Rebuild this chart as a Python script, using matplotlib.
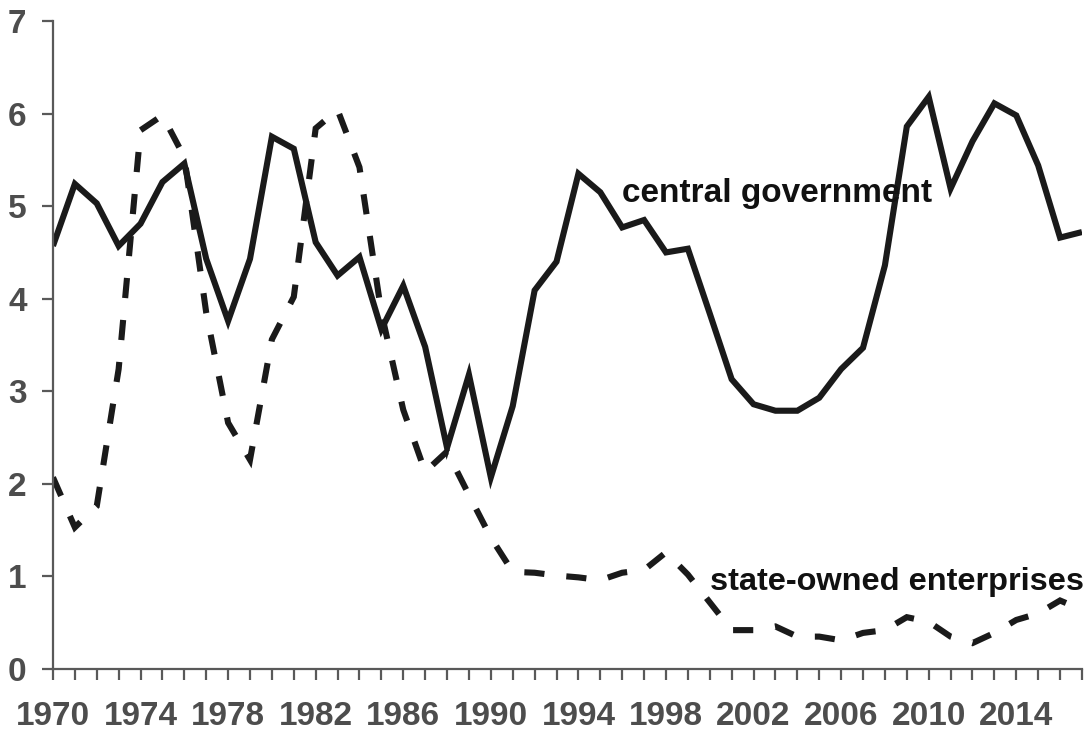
import matplotlib
matplotlib.use("Agg")
import matplotlib.pyplot as plt

# years 1970-2017
years = list(range(1970, 2018))

central_government = [4.57, 5.24, 5.03, 4.57, 4.81, 5.26, 5.46, 4.43, 3.76, 4.43,
                      5.75, 5.62, 4.61, 4.25, 4.45, 3.67, 4.14, 3.48, 2.39, 3.18,
                      2.07, 2.84, 4.09, 4.40, 5.35, 5.15, 4.77, 4.85, 4.50, 4.54,
                      3.84, 3.13, 2.86, 2.79, 2.79, 2.93, 3.24, 3.47, 4.36, 5.86,
                      6.18, 5.19, 5.70, 6.11, 5.98, 5.44, 4.66, 4.72]

state_owned = [2.07, 1.53, 1.76, 3.24, 5.82, 5.98, 5.53, 3.85, 2.66, 2.26,
               3.56, 4.02, 5.84, 6.04, 5.42, 3.85, 2.80, 2.13, 2.35, 1.88,
               1.42, 1.05, 1.04, 1.01, 0.99, 0.96, 1.04, 1.07, 1.26, 1.02,
               0.72, 0.42, 0.42, 0.46, 0.35, 0.35, 0.31, 0.39, 0.42, 0.56,
               0.51, 0.35, 0.28, 0.39, 0.53, 0.60, 0.74, 0.64]

x_labels = list(range(1970, 2015, 4))
y_ticks = list(range(0, 8))

plt.rcParams['font.family'] = ['Liberation Sans', 'DejaVu Sans']
plt.rcParams['font.weight'] = 'bold'

fig = plt.figure(figsize=(10.92, 7.31), dpi=100)
ax = fig.add_axes([0.0485, 0.0848, 0.9423, 0.8865])

line_col = "#1a1a1a"
axis_col = "#595959"
text_col = "#4d4d4d"

ax.plot(years, central_government, color=line_col, lw=4.4,
        solid_joinstyle='miter', solid_capstyle='butt')
ax.plot(years, state_owned, color=line_col, lw=4.4, linestyle=(0, (3.3, 3.6)),
        dash_capstyle='butt', dash_joinstyle='miter')

# series labels
ax.text(1996.0, 5.05, "central government", fontsize=24, fontweight='bold',
        color='#111111', ha='left', va='baseline')
ax.text(2000.0, 0.855, "state-owned enterprises", fontsize=23.4, fontweight='bold',
        color='#111111', ha='left', va='baseline')

ax.set_xlim(1970, 2017)
ax.set_ylim(0, 7)
ax.set_xticks(x_labels)
ax.set_xticks(years, minor=True)
ax.set_yticks(y_ticks)

for s in ['top', 'right']:
    ax.spines[s].set_visible(False)
for s in ['left', 'bottom']:
    ax.spines[s].set_color(axis_col)
    ax.spines[s].set_linewidth(1.6)

ax.tick_params(which='both', direction='out', length=8, width=1.6, color=axis_col)
ax.tick_params(axis='both', which='major', labelsize=24, labelcolor=text_col)
ax.tick_params(axis='x', which='major', pad=15)
ax.tick_params(axis='y', which='major', pad=11)
for lab in ax.get_xticklabels() + ax.get_yticklabels():
    lab.set_fontweight('bold')

fig.savefig("out.png", dpi=100)
